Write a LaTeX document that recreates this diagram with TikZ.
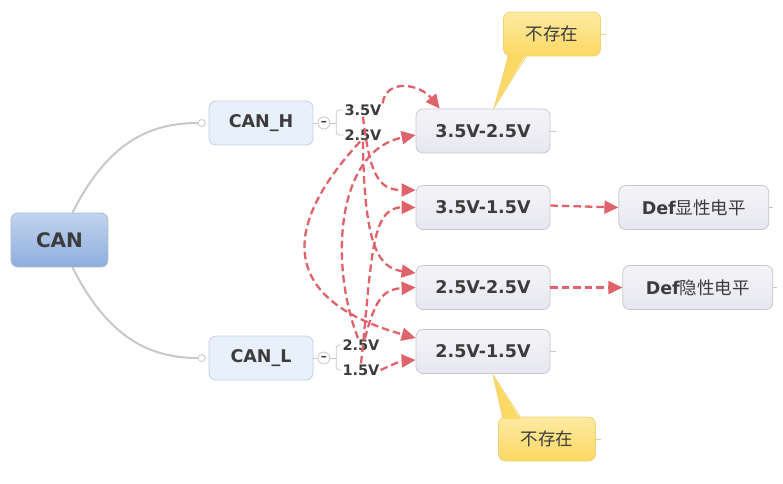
\documentclass[tikz,border=0pt]{standalone}
\usepackage{fontspec}
\setmainfont{DejaVu Sans}
\newfontfamily\cjk{Noto Sans CJK SC}
\usetikzlibrary{arrows.meta,positioning}

\definecolor{relred}{HTML}{E0626A}
\definecolor{linegray}{HTML}{C8C8C8}
\definecolor{boxline}{HTML}{C6C6CE}
\definecolor{boxtop}{HTML}{F4F4F8}
\definecolor{boxbot}{HTML}{E7E7EF}
\definecolor{hfill}{HTML}{E8F0FC}
\definecolor{hline}{HTML}{C4D0E2}
\definecolor{cantop}{HTML}{C2D3EE}
\definecolor{canbot}{HTML}{8EAEDD}
\definecolor{canline}{HTML}{A9BAD3}
\definecolor{yeltop}{HTML}{FDEAA2}
\definecolor{yelbot}{HTML}{FCD864}
\definecolor{yelline}{HTML}{EDD27A}
\definecolor{textgray}{HTML}{3C3C3C}

\tikzset{
  topic/.style={draw=boxline, line width=0.8pt, rounded corners=7pt,
    top color=boxtop, bottom color=boxbot, text=textgray,
    minimum width=134pt, minimum height=44pt, inner sep=0pt,
    font=\bfseries\fontsize{17.5}{20}\selectfont},
  sidetopic/.style={topic, draw=hline, top color=hfill, bottom color=hfill,
    minimum width=104pt},
  deftopic/.style={topic, minimum width=150pt},
  note/.style={draw=yelline, line width=0.8pt, rounded corners=7pt,
    top color=yeltop, bottom color=yelbot, text=textgray,
    minimum width=97pt, minimum height=44pt,
    font=\cjk\fontsize{17.5}{20}\selectfont},
  level/.style={text=textgray, inner sep=1pt,
    font=\bfseries\fontsize{14.5}{16}\selectfont},
  dot/.style={circle, draw=linegray, fill=white, line width=0.8pt,
    inner sep=0pt, minimum size=7pt},
  fold/.style={circle, draw=linegray, fill=white, line width=0.8pt,
    inner sep=0pt, minimum size=12pt, text=textgray,
    font=\bfseries\fontsize{12}{12}\selectfont},
  branch/.style={draw=linegray, line width=2pt},
  stub/.style={draw=linegray, line width=0.6pt},
  brace/.style={draw=linegray, line width=0.8pt, rounded corners=3pt},
  rel/.style={draw=relred, line width=2.3pt, dash pattern=on 7.5pt off 4pt,
    -{Triangle[length=14pt,width=13pt]}}
}

\begin{document}
\begin{tikzpicture}[x=1pt,y=-1pt]
  \useasboundingbox (0,0) rectangle (783,483);

  % topics
  \node (CAN) [topic, draw=canline, top color=cantop, bottom color=canbot,
    minimum width=97pt, minimum height=54pt,
    font=\bfseries\fontsize{20}{24}\selectfont] at (59.5,240) {CAN};
  \node (CANH) [sidetopic] at (261,123) {CAN\_H};
  \node (CANL) [sidetopic] at (261,358) {CAN\_L};
  \node (A) [topic] at (483,131) {3.5V-2.5V};
  \node (B) [topic] at (483,207.5) {3.5V-1.5V};
  \node (C) [topic] at (483,287.5) {2.5V-2.5V};
  \node (D) [topic] at (483,351.5) {2.5V-1.5V};
  \node (dom) [deftopic, right=68pt of B] {Def{\cjk\mdseries 显性电平}};
  \node (rec) [deftopic, right=72pt of C] {Def{\cjk\mdseries 隐性电平}};

  % branches from the root
  \node (hdot) [dot, left=3pt of CANH] {};
  \node (ldot) [dot, left=3pt of CANL] {};
  \draw[branch] ([xshift=13pt]CAN.north) .. controls (108,142) and (150,123) .. (hdot.west);
  \draw[branch] ([xshift=13pt]CAN.south) .. controls (108,338) and (150,358) .. (ldot.west);

  % levels
  \node (hfold) [fold, right=4pt of CANH] {--};
  \node (lfold) [fold, right=4pt of CANL] {--};
  \draw[stub] (CANH.east) -- (hfold.west);
  \draw[stub] (CANL.east) -- (lfold.west);
  \node (h35) [level] at (363,110) {3.5V};
  \node (h25) [level] at (363,135) {2.5V};
  \node (l25) [level] at (361,345) {2.5V};
  \node (l15) [level] at (361,370) {1.5V};
  \draw[brace] (h35.west) -| ([xshift=6pt]hfold.east) |- (h25.west);
  \draw[brace] ([xshift=6pt]hfold.east) -- (hfold.east);
  \draw[brace] (l25.west) -| ([xshift=6pt]lfold.east) |- (l15.west);
  \draw[brace] ([xshift=6pt]lfold.east) -- (lfold.east);

  % small stubs
  \draw[stub] (A.east) -- +(6,0);
  \draw[stub] (D.east) -- +(6,0);
  \draw[stub] (dom.east) -- +(4,0);
  \draw[stub] (rec.east) -- +(4,0);

  % callouts
  \fill[yelbot] (509,52) -- (494,108) -- (527,52) -- cycle;
  \draw[yelline, line width=0.8pt] (509,55) -- (494,108) -- (527,55);
  \node (top) [note] at (552,34) {不存在};
  \fill[yelbot] (510,54) -- (495,106) -- (526,54) -- cycle;
  \draw[stub, draw=yelline] (top.east) -- +(5,0);

  \fill[yelbot] (503,421) -- (493,375) -- (521,421) -- cycle;
  \draw[yelline, line width=0.8pt] (503,418) -- (493,375) -- (521,418);
  \node (bot) [note] at (547,439) {不存在};
  \fill[yelbot] (504,419) -- (494,377) -- (520,419) -- cycle;
  \draw[stub, draw=yelline] (bot.east) -- +(5,0);

  % relationships
  \draw[rel] (h35.north east) .. controls (386,78) and (420,84) .. ([xshift=24pt]A.north west);
  \draw[rel] (h35.south) .. controls (370,178) and (380,190) .. ([yshift=-5pt]B.north west);
  \draw[rel] (h25.south) .. controls (364,250) and (380,268) .. ([yshift=-8pt]C.north west);
  \draw[rel] ([xshift=-3pt]h25.south) .. controls (280,228) and (280,300) .. ([yshift=-9pt]D.north west);
  \draw[rel] ([xshift=-3pt]l25.north) .. controls (328,260) and (338,150) .. ([yshift=-4pt]A.west);
  \draw[rel] (l15.north) .. controls (372,262) and (370,207) .. (B.west);
  \draw[rel] ([xshift=4pt]l25.north) .. controls (376,295) and (386,289) .. (C.west);
  \draw[rel] (l15.east) .. controls (394,364) and (400,361) .. ([yshift=-8.5pt]D.west);
  \draw[rel] ([yshift=2pt]B.east) -- (dom.west);
  \draw[rel] (C.east) -- (rec.west);
\end{tikzpicture}
\end{document}
